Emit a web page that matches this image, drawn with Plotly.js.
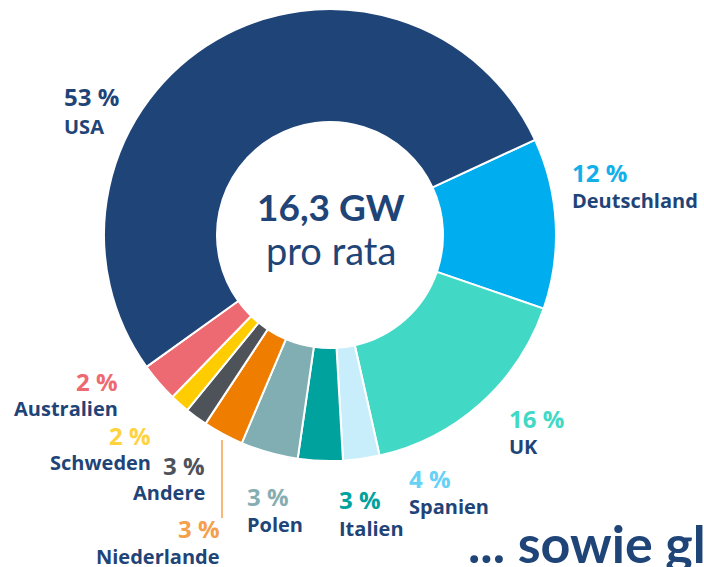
<!DOCTYPE html>
<html>
<head>
<meta charset="utf-8">
<script src="https://cdn.plot.ly/plotly-3.0.1.min.js"></script>
<style>html,body{margin:0;padding:0;background:#fff;}#chart{width:704px;height:567px;}</style>
</head>
<body>
<div id="chart"></div>
<script>
// Clockwise from the USA/Deutschland boundary
const countries = ["Deutschland", "UK", "Spanien", "Italien", "Polen", "Niederlande", "Andere", "Schweden", "Australien", "USA"];
const shares = [12.2, 16.2, 2.6, 3.2, 4.1, 2.9, 1.6, 1.4, 2.8, 53.0];
const pctLabels = ["12 %", "16 %", "4 %", "3 %", "3 %", "3 %", "3 %", "2 %", "2 %", "53 %"];
const sliceColors = ["#00AEEF", "#41D9C5", "#C8EEFB", "#00A29D", "#80AEB2", "#EF7D00", "#4E535A", "#FFCC00", "#EE6A72", "#1F4477"];
const pctColors = ["#12B0EA", "#41D9C5", "#66D2F6", "#00A29D", "#86AEB2", "#F4A04D", "#4E535A", "#FFD23F", "#EE6A72", "#1F4477"];
const centerTitle = "16,3 GW";
const centerSub = "pro rata";
const footerText = "... sowie gl";

const W = 704, H = 567;
const cx = 330, cy = 235, R = 226;
const navy = "#1F4477";
const FONT = "Lato, 'Open Sans', sans-serif";
const LFONT = "'Open Sans', Lato, sans-serif";

// label layout: [x, yPct, yName, anchor]
const labelPos = {
  "USA": [62, 97, 126, "left"],
  "Deutschland": [570, 172, 201, "left"],
  "UK": [507, 418, 446, "left"],
  "Spanien": [407, 478, 506, "left"],
  "Italien": [337, 499, 528, "left"],
  "Polen": [245, 496, 524, "left"],
  "Niederlande": [222, 528, 556, "right"],
  "Andere": [207, 465, 492, "right"],
  "Schweden": [153, 435, 462, "right"],
  "Australien": [120, 381, 408, "right"]
};

const px = x => x / W;
const py = y => 1 - y / H;

const annotations = [];
countries.forEach((c, i) => {
  const p = labelPos[c];
  annotations.push({x: px(p[0]), y: py(p[1]), xref: "paper", yref: "paper", xanchor: p[3], yanchor: "middle",
    text: "<b>" + pctLabels[i] + "</b>", showarrow: false, font: {family: LFONT, size: 24, color: pctColors[i]}});
  annotations.push({x: px(p[0]), y: py(p[2]), xref: "paper", yref: "paper", xanchor: p[3], yanchor: "middle",
    text: "<b>" + c + "</b>", showarrow: false, font: {family: LFONT, size: 20, color: navy}});
});
annotations.push({x: px(cx + 1), y: py(206), xref: "paper", yref: "paper", xanchor: "center", yanchor: "middle",
  text: "<b>" + centerTitle + "</b>", showarrow: false, font: {family: FONT, size: 37, color: navy}});
annotations.push({x: px(cx + 1), y: py(250), xref: "paper", yref: "paper", xanchor: "center", yanchor: "middle",
  text: centerSub, showarrow: false, font: {family: FONT, size: 38, color: navy}});
annotations.push({x: px(466), y: py(543), xref: "paper", yref: "paper", xanchor: "left", yanchor: "middle",
  text: "<b>" + footerText + "</b>", showarrow: false, font: {family: FONT, size: 52, color: navy}});

const data = [{
  type: "pie",
  labels: countries,
  values: shares,
  sort: false,
  direction: "clockwise",
  rotation: 65.1,
  hole: 0.5,
  marker: {colors: sliceColors, line: {color: "#ffffff", width: 2}},
  textinfo: "none",
  hoverinfo: "none",
  showlegend: false,
  domain: {x: [(cx - R) / W, (cx + R) / W], y: [(H - cy - R) / H, (H - cy + R) / H]}
}];

const layout = {
  width: W, height: H,
  margin: {l: 0, r: 0, t: 0, b: 0},
  paper_bgcolor: "#ffffff",
  showlegend: false,
  annotations: annotations,
  shapes: [{type: "line", xref: "paper", yref: "paper", x0: px(222), x1: px(222), y0: py(440), y1: py(518),
    line: {color: "#F4A04D", width: 1.5}}]
};

Plotly.newPlot("chart", data, layout, {displayModeBar: false, staticPlot: true});
</script>
</body>
</html>
